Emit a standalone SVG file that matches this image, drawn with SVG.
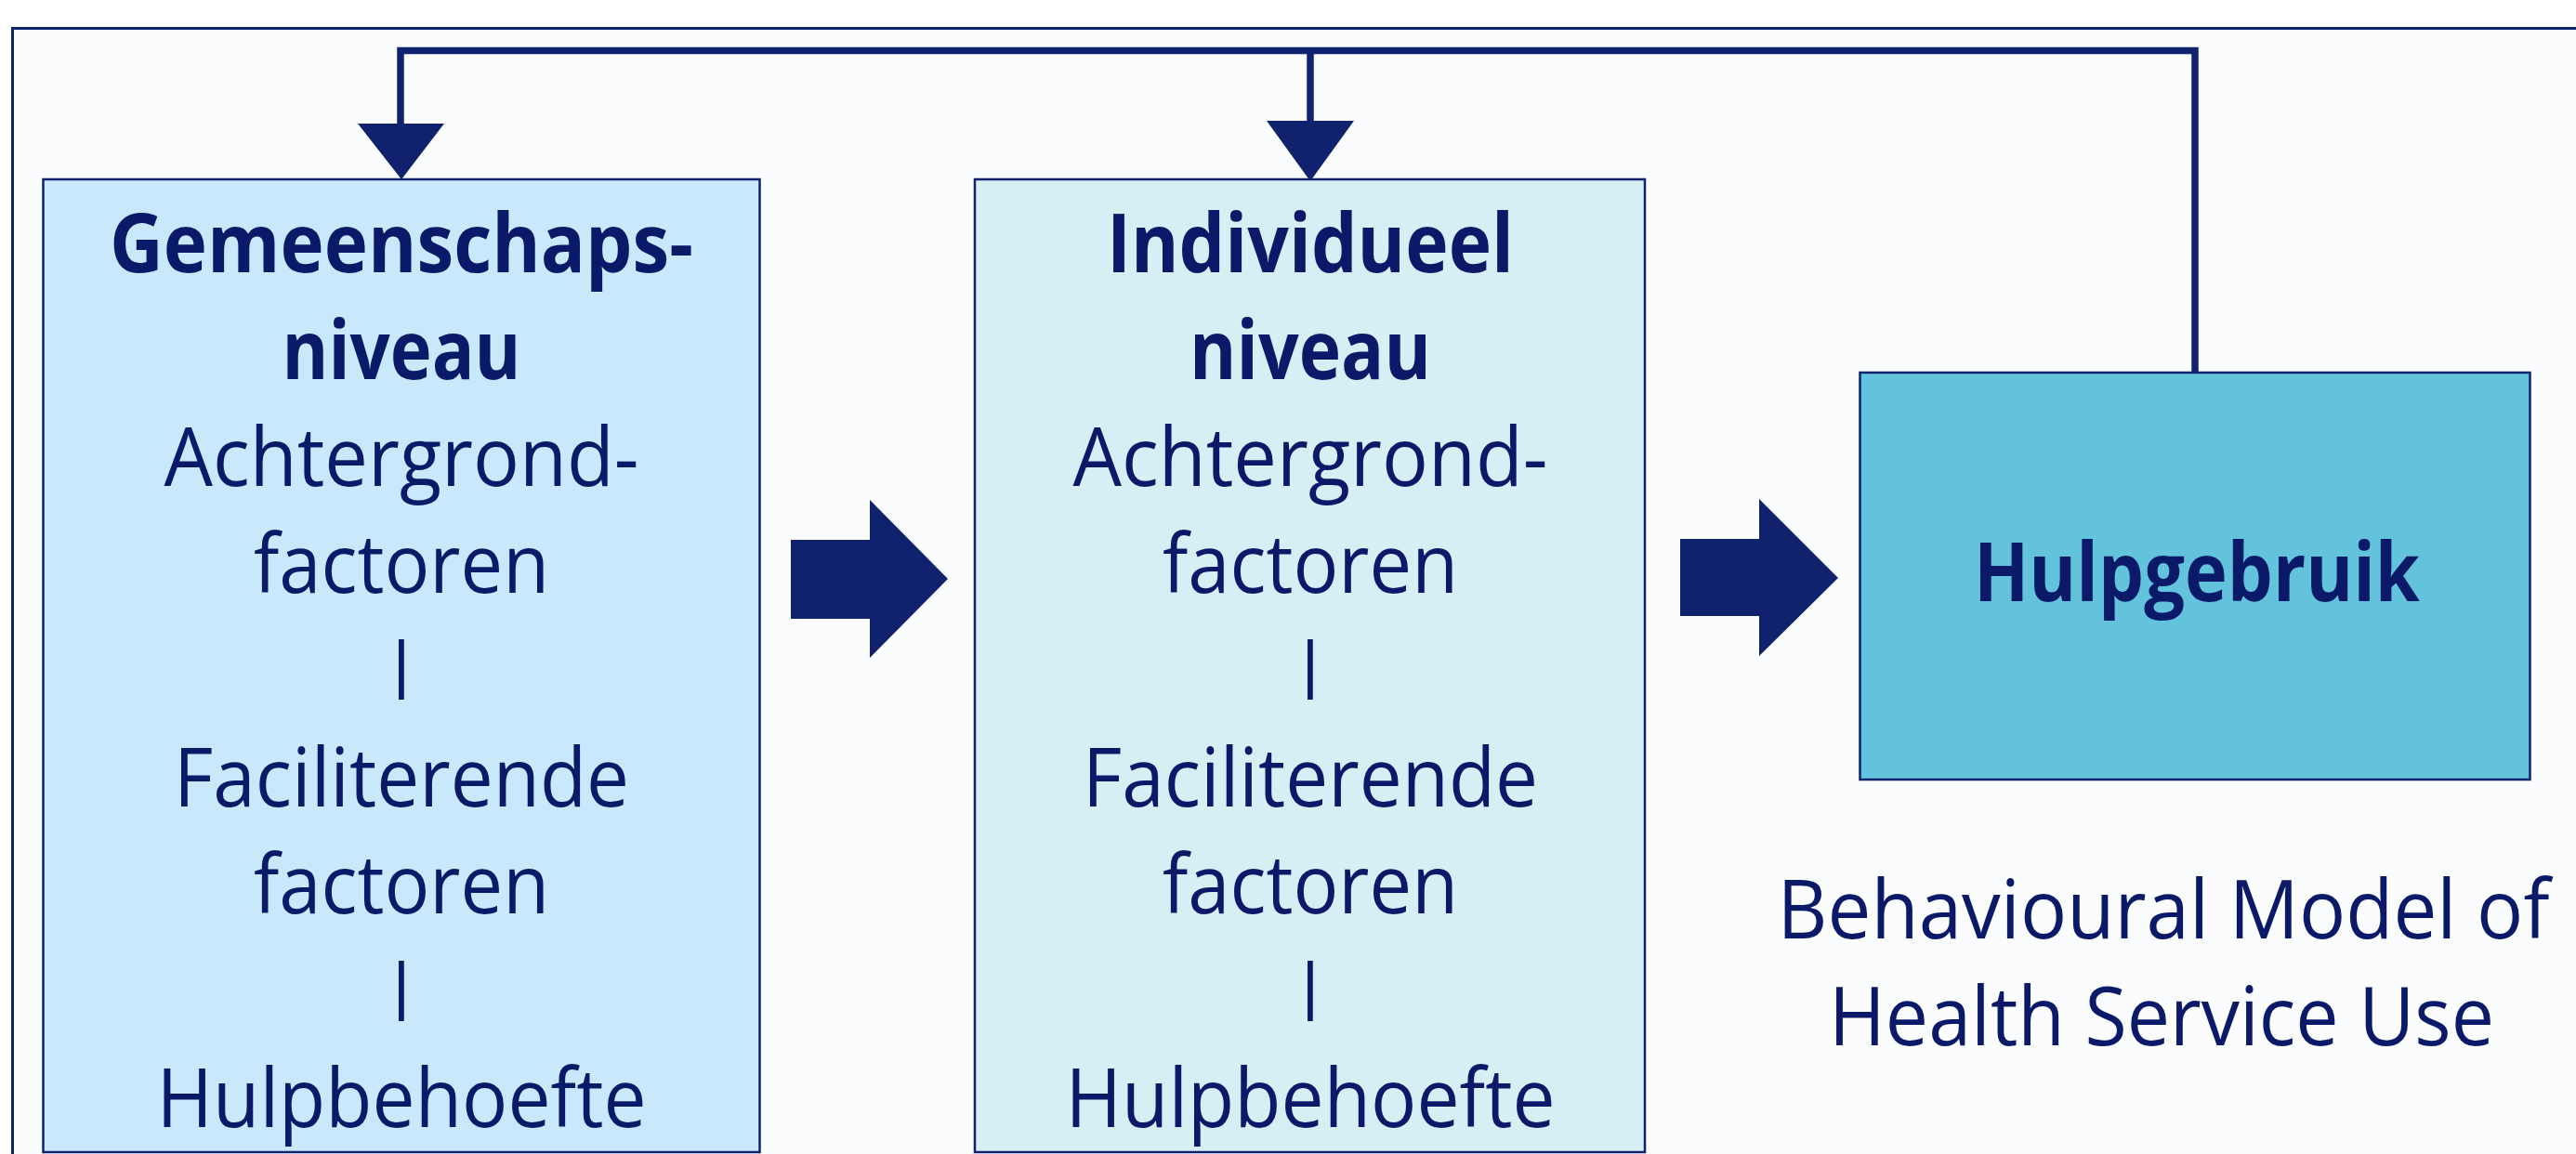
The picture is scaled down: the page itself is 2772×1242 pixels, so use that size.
<svg xmlns="http://www.w3.org/2000/svg" width="2772" height="1242" viewBox="0 0 2772 1242">
<style>
.t{font-family:"Open Sans","Noto Sans",sans-serif;fill:#0b1a68;text-anchor:middle;font-size:87px;font-weight:500}
.b{font-weight:bold}
.bar{font-size:66px;font-weight:600}
.box{stroke:#10226e;stroke-width:2.5}
.conn{fill:none;stroke:#10226e;stroke-width:7.5}
.ah{fill:#10226e}
</style>
<rect x="0" y="0" width="2772" height="1242" fill="#ffffff"/>
<rect id="frame" x="13.5" y="30.5" width="2800" height="1260" fill="#fafcfe" stroke="#10226e" stroke-width="3"/>

<g id="connectors">
<path class="conn" d="M2362,401 V54.5 H431 V134"/>
<path class="conn" d="M1410,54.5 V131"/>
<polygon class="ah" points="385,133 478,133 432,193"/>
<polygon class="ah" points="1363,130 1457,130 1410,195"/>
<polygon id="arrow1" class="ah" points="851,581 936,581 936,538 1020,623 936,708 936,666 851,666"/>
<polygon id="arrow2" class="ah" points="1808,580 1893,580 1893,537 1978,622 1893,706 1893,663 1808,663"/>
</g>

<g id="node-gemeenschap">
<rect class="box" x="46.5" y="193" width="771" height="1047" fill="#c9e8fb"/>
<text class="t b" x="432" y="293" textLength="628" lengthAdjust="spacingAndGlyphs">Gemeenschaps-</text>
<text class="t b" x="432" y="408" textLength="257" lengthAdjust="spacingAndGlyphs">niveau</text>
<text class="t" x="432" y="523" textLength="511" lengthAdjust="spacingAndGlyphs">Achtergrond-</text>
<text class="t" x="432" y="638" textLength="318" lengthAdjust="spacingAndGlyphs">factoren</text>
<text class="t bar" x="432" y="737">|</text>
<text class="t" x="432" y="868" textLength="490" lengthAdjust="spacingAndGlyphs">Faciliterende</text>
<text class="t" x="432" y="983" textLength="318" lengthAdjust="spacingAndGlyphs">factoren</text>
<text class="t bar" x="432" y="1083">|</text>
<text class="t" x="432" y="1213" textLength="527" lengthAdjust="spacingAndGlyphs">Hulpbehoefte</text>
</g>

<g id="node-individueel">
<rect class="box" x="1049" y="193" width="721" height="1047" fill="#d6eff5"/>
<text class="t b" x="1410" y="293" textLength="438" lengthAdjust="spacingAndGlyphs">Individueel</text>
<text class="t b" x="1410" y="408" textLength="260" lengthAdjust="spacingAndGlyphs">niveau</text>
<text class="t" x="1410" y="523" textLength="511" lengthAdjust="spacingAndGlyphs">Achtergrond-</text>
<text class="t" x="1410" y="638" textLength="318" lengthAdjust="spacingAndGlyphs">factoren</text>
<text class="t bar" x="1410" y="737">|</text>
<text class="t" x="1410" y="868" textLength="490" lengthAdjust="spacingAndGlyphs">Faciliterende</text>
<text class="t" x="1410" y="983" textLength="318" lengthAdjust="spacingAndGlyphs">factoren</text>
<text class="t bar" x="1410" y="1083">|</text>
<text class="t" x="1410" y="1213" textLength="527" lengthAdjust="spacingAndGlyphs">Hulpbehoefte</text>
</g>

<g id="node-hulpgebruik">
<rect class="box" x="2001.5" y="401" width="721" height="438" fill="#63c3dc"/>
<text class="t b" x="2364" y="647" textLength="480" lengthAdjust="spacingAndGlyphs">Hulpgebruik</text>
</g>

<g id="caption">
<text class="t" x="2328" y="1010" style="font-size:88px" textLength="831" lengthAdjust="spacingAndGlyphs">Behavioural Model of</text>
<text class="t" x="2326" y="1125" style="font-size:88px" textLength="716" lengthAdjust="spacingAndGlyphs">Health Service Use</text>
</g>
</svg>
